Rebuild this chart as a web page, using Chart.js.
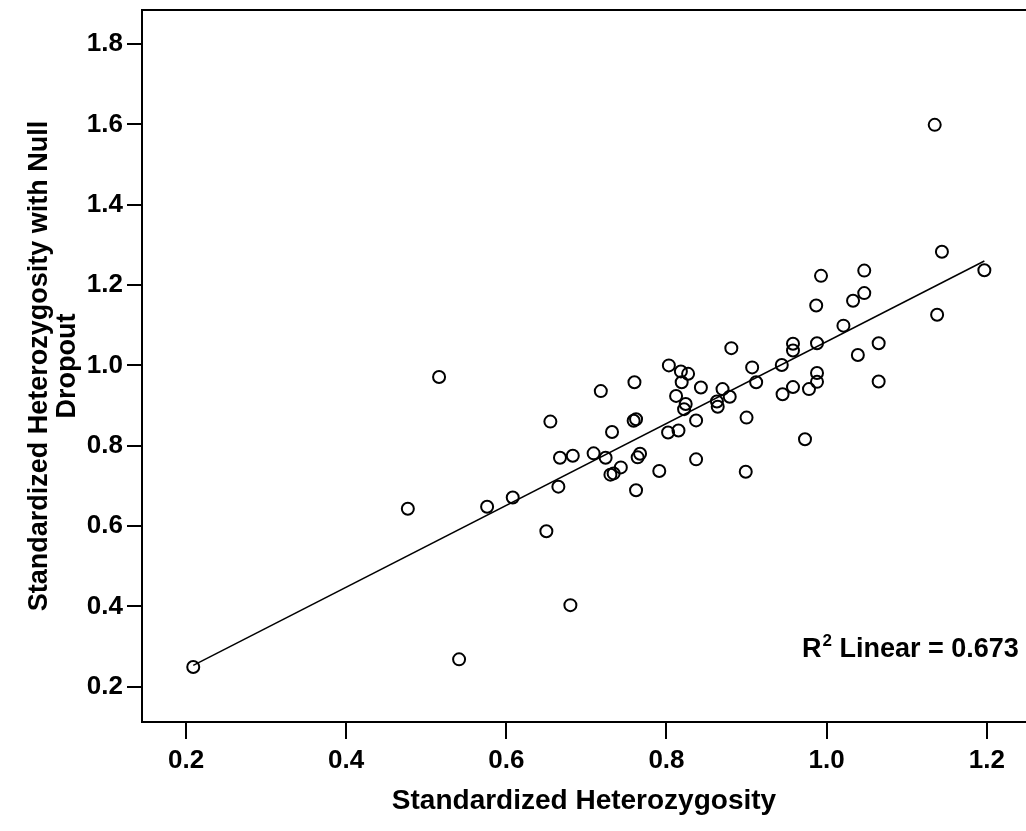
<!DOCTYPE html>
<html>
<head>
<meta charset="utf-8">
<title>Standardized Heterozygosity</title>
<script src="https://cdn.jsdelivr.net/npm/chart.js@4.4.0/dist/chart.umd.min.js"></script>
<style>
  html, body { margin: 0; padding: 0; background: #fff; }
  #chart { display: block; }
</style>
</head>
<body>
<canvas id="chart" width="1026" height="831"></canvas>
<script>
// values
const hetX = [
  0.209, 0.541, 0.680, 0.477, 0.516, 0.576, 0.608, 0.655, 0.650, 0.665,
  0.667, 0.683, 0.709, 0.718, 0.724, 0.732, 0.730, 0.734, 0.743, 0.760,
  0.759, 0.762, 0.762, 0.767, 0.764, 0.791, 0.803, 0.818, 0.827, 0.819,
  0.843, 0.812, 0.824, 0.822, 0.837, 0.802, 0.815, 0.837, 0.881, 0.870,
  0.879, 0.863, 0.864, 0.900, 0.899, 0.907, 0.912, 0.944, 0.958, 0.958,
  0.988, 0.945, 0.958, 0.978, 0.988, 0.988, 0.973, 0.987, 0.993, 1.021,
  1.033, 1.047, 1.047, 1.039, 1.065, 1.065, 1.135, 1.144, 1.138, 1.197
];
const nullY = [
  0.249, 0.268, 0.403, 0.643, 0.971, 0.648, 0.671, 0.860, 0.587, 0.698,
  0.770, 0.775, 0.781, 0.936, 0.770, 0.834, 0.728, 0.731, 0.746, 0.958,
  0.862, 0.866, 0.689, 0.780, 0.771, 0.737, 1.000, 0.985, 0.979, 0.958,
  0.945, 0.924, 0.904, 0.891, 0.863, 0.833, 0.838, 0.766, 1.043, 0.941,
  0.922, 0.910, 0.897, 0.870, 0.735, 0.995, 0.958, 1.001, 1.054, 1.037,
  1.055, 0.928, 0.946, 0.941, 0.981, 0.959, 0.816, 1.149, 1.223, 1.099,
  1.161, 1.180, 1.236, 1.026, 1.055, 0.960, 1.599, 1.283, 1.126, 1.237
];
// fit line ends, as drawn
const fitX = [0.209, 1.197];
const fitY = [0.253, 1.260];
const rSquared = 0.673;

const xTicks = [0.2, 0.4, 0.6, 0.8, 1.0, 1.2];
const yTicks = [0.2, 0.4, 0.6, 0.8, 1.0, 1.2, 1.4, 1.6, 1.8];

Chart.defaults.font.family = '"Liberation Sans", Arial, sans-serif';
Chart.defaults.font.weight = 'bold';
Chart.defaults.color = '#000';

// top frame line + the R² note
const framePlugin = {
  id: 'frame',
  afterDatasetsDraw(chart) {
    const { ctx, chartArea } = chart;
    ctx.save();
    ctx.strokeStyle = '#000';
    ctx.lineWidth = 2;
    ctx.beginPath();
    ctx.moveTo(chartArea.left, chartArea.top);
    ctx.lineTo(chartArea.right, chartArea.top);
    ctx.stroke();

    let x = 802;
    const y = 657;
    ctx.fillStyle = '#000';
    ctx.textBaseline = 'alphabetic';
    ctx.textAlign = 'left';
    ctx.font = 'bold 27px "Liberation Sans", Arial, sans-serif';
    ctx.fillText('R', x, y);
    x += ctx.measureText('R').width + 1;
    ctx.font = 'bold 17px "Liberation Sans", Arial, sans-serif';
    ctx.fillText('2', x, y - 11);
    x += ctx.measureText('2').width;
    ctx.font = 'bold 27px "Liberation Sans", Arial, sans-serif';
    ctx.fillText(' Linear = ' + rSquared.toFixed(3), x, y);
    ctx.restore();
  }
};

const noPad = s => {
  s.paddingLeft = 0;
  s.paddingRight = 0;
  s.paddingTop = 0;
  s.paddingBottom = 0;
};

const points = hetX.map((v, i) => ({ x: v, y: nullY[i] }));
const fitLine = fitX.map((v, i) => ({ x: v, y: fitY[i] }));

new Chart(document.getElementById('chart'), {
  type: 'scatter',
  data: {
    datasets: [
      {
        label: 'Observed',
        data: points,
        pointStyle: 'circle',
        pointRadius: 6,
        pointBorderWidth: 2,
        borderColor: '#000',
        backgroundColor: 'rgba(0,0,0,0)',
        order: 1
      },
      {
        label: 'Linear',
        type: 'line',
        data: fitLine,
        showLine: true,
        borderColor: '#000',
        borderWidth: 1.5,
        pointRadius: 0,
        fill: false,
        order: 2
      }
    ]
  },
  options: {
    responsive: false,
    animation: false,
    layout: { autoPadding: false, padding: { top: 10, right: 0, bottom: 0, left: 0 } },
    plugins: {
      legend: { display: false },
      tooltip: { enabled: false }
    },
    scales: {
      x: {
        type: 'linear',
        min: 0.145,
        max: 1.249,
        afterBuildTicks: s => { s.ticks = xTicks.map(v => ({ value: v })); },
        afterFit: s => { s.height = 109; noPad(s); },
        grid: { drawOnChartArea: false, drawTicks: true, tickLength: 17, color: '#000', lineWidth: 2 },
        border: { display: true, color: '#000', width: 2 },
        ticks: {
          padding: 6,
          font: { size: 26, weight: 'bold' },
          callback: v => Number(v).toFixed(1)
        },
        title: {
          display: true,
          text: 'Standardized Heterozygosity',
          font: { size: 28, weight: 'bold', lineHeight: 30 / 28 },
          padding: { top: 0, bottom: 15 }
        }
      },
      y: {
        type: 'linear',
        min: 0.112,
        max: 1.885,
        afterBuildTicks: s => { s.ticks = yTicks.map(v => ({ value: v })); },
        afterFit: s => { s.width = 142; noPad(s); },
        grid: { drawOnChartArea: false, drawTicks: true, tickLength: 15, color: '#000', lineWidth: 2 },
        border: { display: true, color: '#000', width: 2 },
        ticks: {
          padding: 4,
          font: { size: 26, weight: 'bold' },
          callback: v => Number(v).toFixed(1)
        },
        title: {
          display: true,
          text: ['Standardized Heterozygosity with Null', 'Dropout'],
          font: { size: 27, weight: 'bold', lineHeight: 28 / 27 },
          padding: { top: 26, bottom: 0 }
        }
      }
    }
  },
  plugins: [framePlugin]
});
</script>
</body>
</html>
